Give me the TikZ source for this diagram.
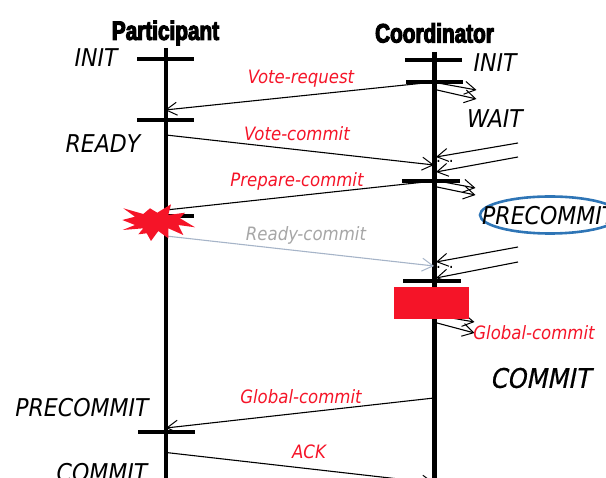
\documentclass[tikz,border=0pt]{standalone}
\usepackage{fontspec}
\usetikzlibrary{arrows.meta}
\setmainfont{DejaVu Sans Condensed}
\newfontfamily\headfont[FakeStretch=0.78,FakeBold=4]{Liberation Sans Bold}
\newfontfamily\heavystate[FakeSlant=0.2,FakeBold=0.7]{DejaVu Sans Condensed}
\definecolor{alarm}{HTML}{F51428}
\definecolor{ringblue}{HTML}{2E75B6}
\definecolor{faded}{HTML}{A6B4C8}
\definecolor{fadedtext}{HTML}{A6A6A6}
\tikzset{
  x=1pt,y=-1pt,
  timeline/.style={line width=4.2pt,black},
  tick/.style={line width=3.6pt,black},
  msg/.style={line width=1.1pt,black,-{Straight Barb[length=11pt,width=13pt,line width=1pt]}},
  plainmsg/.style={line width=1.1pt,black},
  head/.style={font=\headfont\fontsize{26.6}{27}\selectfont,inner sep=0pt},
  state/.style={font=\itshape\fontsize{24.5}{24.5}\selectfont,inner sep=0pt},
  msglabel/.style={font=\itshape\fontsize{18.4}{19}\selectfont,text=alarm,inner sep=0pt},
  dotrow/.style={inner sep=0pt,font=\fontsize{17}{17}\selectfont},
}
\begin{document}
\begin{tikzpicture}
\useasboundingbox (0,0) rectangle (606,478);
\clip (0,0) rectangle (606,478);
% named end points
\foreach \n/\x/\y in {
 pt/166/48, pb/166/478, ct/434.5/52, cb/434.5/478,
 pa1/137/59, pa2/194/59, pb1/137/120, pb2/194/120, pc1/150/216, pc2/194/216, pd1/138/432, pd2/195/432,
 ca1/405/60, ca2/462/60, cc1/406/82, cc2/463/82, cd1/402/181, cd2/460/181, ce1/403/281, ce2/461/281,
 vr1/434/82, vr2/165/110, vc1/166/135, vc2/434/165, pr1/434/181, pr2/166/210,
 rc1/166/236, rc2/434/266, gc1/434/398, gc2/166/428, ack1/166/452.5, ack2/434/483,
 o1s/438/83, o1e/476.5/90, o2s/437/90, o2e/476.5/99,
 i1s/518/143, i1e/436/157, i2s/518/157, i2e/436/172,
 o3s/438/181, o3e/475.5/188, o4s/437/187, o4e/475.5/195,
 i3s/518/247, i3e/436/262, i4s/518/262, i4e/436/278,
 o5s/440/316, o6s/437/323, o6e/474.5/333}
 {\coordinate (\n) at (\x,\y);}
\coordinate (o5e) at (474.5,322);

\draw[timeline] (pt) -- (pb);
\draw[timeline] (ct) -- (cb);
\foreach \a/\b in {pa1/pa2,pb1/pb2,pc1/pc2,pd1/pd2,ca1/ca2,cc1/cc2,cd1/cd2,ce1/ce2}
  \draw[tick] (\a) -- (\b);

\foreach \a/\b in {vr1/vr2,vc1/vc2,gc1/gc2,ack1/ack2,o1s/o1e,o2s/o2e,i1s/i1e,i2s/i2e,o3s/o3e,o4s/o4e,i3s/i3e,i4s/i4e,o5s/o5e,o6s/o6e}
  \draw[msg] (\a) -- (\b);
\draw[plainmsg] (pr1) -- (pr2);
\draw[msg,faded] (rc1) -- (rc2);

\node[dotrow] (dots1) at (445,161) {.\hspace{8pt}.};
\node[dotrow] (dots2) at (445,267) {.\hspace{8pt}.};

\fill[alarm] (394,287) rectangle (469,319);

\fill[alarm] (123.3,208.3) -- (143.3,214) -- (150,208.3) -- (157.3,212.7) -- (171,204.3) -- (168.3,215) -- (185,212.7) -- (180,218.3) -- (195,227.3) -- (178.3,225) -- (183.3,235) -- (168.3,228.3) -- (168.3,238.3) -- (158.3,231) -- (151,241) -- (146.7,233.3) -- (138.3,234.3) -- (143.3,228.3) -- (122.7,230) -- (135,225) -- (122.3,220) -- (135,216.7) -- cycle;

\draw[ringblue,line width=2.6pt] (550,215) ellipse [x radius=70,y radius=18.5];

\node[head] (part) at (165.5,33) {Participant};
\node[head] (coord) at (434.5,33) {Coordinator};

\node[state] (s1) at (96,58) {INIT};
\node[state] (s2) at (103,144) {READY};
\node[state] (s3) at (82,408) {PRECOMMIT};
\node[state] (s4) at (102,473) {COMMIT};
\node[state] (s5) at (495,63) {INIT};
\node[state] (s6) at (495,119) {WAIT};
\node[state,anchor=west] (s7) at (482,216) {PRECOMMIT};
\node[inner sep=0pt,font=\heavystate\fontsize{27}{27}\selectfont] (s8) at (540,378) {COMMIT};

\node[msglabel] (m1) at (301,79) {Vote-request};
\node[msglabel] (m2) at (297,134) {Vote-commit};
\node[msglabel] (m3) at (297,181) {Prepare-commit};
\node[msglabel,text=fadedtext] (m4) at (306,235) {Ready-commit};
\node[msglabel] (m5) at (534,333) {Global-commit};
\node[msglabel] (m6) at (301,397) {Global-commit};
\node[msglabel] (m7) at (309,452) {ACK};
\end{tikzpicture}
\end{document}
